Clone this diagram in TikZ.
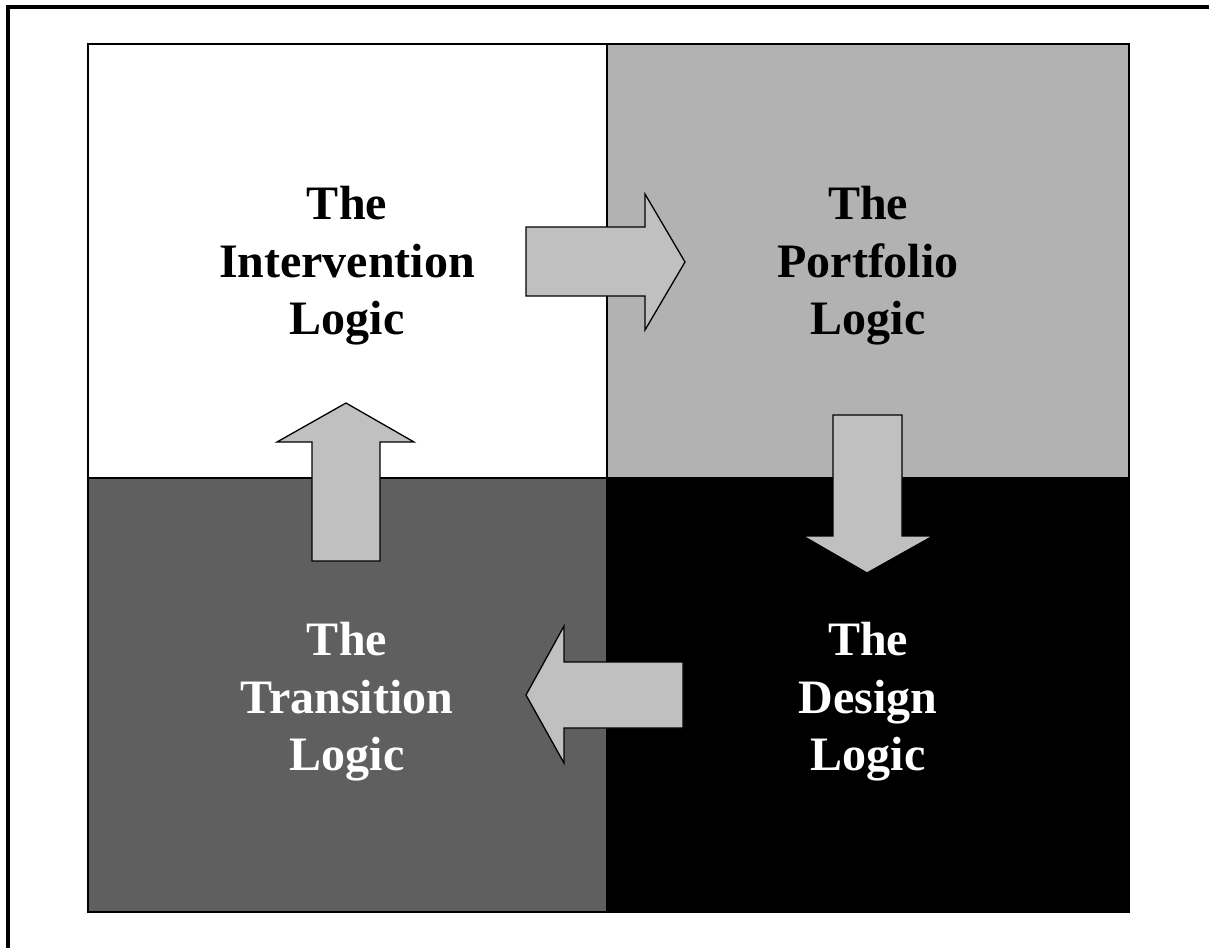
\documentclass[tikz,border=0pt]{standalone}
\usepackage{fontspec}
\setmainfont{Liberation Serif}
\definecolor{portgray}{HTML}{B2B2B2}
\definecolor{trangray}{HTML}{5F5F5F}
\definecolor{arrgray}{HTML}{C0C0C0}

\begin{document}
\begin{tikzpicture}[x=1pt,y=-1pt,
    quad/.style={draw=black,line width=2pt},
    blockarr/.style={fill=arrgray,draw=black,line width=1.3pt,line join=miter},
    logic/.style={font=\fontsize{48}{57.5}\selectfont\bfseries,align=center}]
    \useasboundingbox (0,0) rectangle (1209,947);
    \draw[line width=4pt] (8,970) -- (8,7) -- (1230,7);
    \filldraw[quad,fill=white] (88,44) rectangle (607,478);
    \filldraw[quad,fill=portgray] (607,44) rectangle (1129,478);
    \filldraw[quad,fill=trangray] (88,478) rectangle (607,912);
    \filldraw[quad,fill=black] (607,478) rectangle (1129,912);
    \filldraw[blockarr] (526,227) -- (645,227) -- (645,194) -- (685,262) -- (645,330) -- (645,296) -- (526,296) -- cycle;
    \filldraw[blockarr] (833,415) -- (902,415) -- (902,536) -- (933,536) -- (867,573) -- (803,536) -- (833,536) -- cycle;
    \filldraw[blockarr] (683,662) -- (564,662) -- (564,626) -- (526,695) -- (564,763) -- (564,728) -- (683,728) -- cycle;
    \filldraw[blockarr] (312,561) -- (312,442) -- (277,442) -- (346,403) -- (414,442) -- (380,442) -- (380,561) -- cycle;
    \node[logic] (interv) at (347,266) {The\\Intervention\\Logic};
    \node[logic] (portf) at (868,266) {The\\Portfolio\\Logic};
    \node[logic,text=white] (design) at (868,702) {The\\Design\\Logic};
    \node[logic,text=white] (trans) at (347,702) {The\\Transition\\Logic};
\end{tikzpicture}
\end{document}
